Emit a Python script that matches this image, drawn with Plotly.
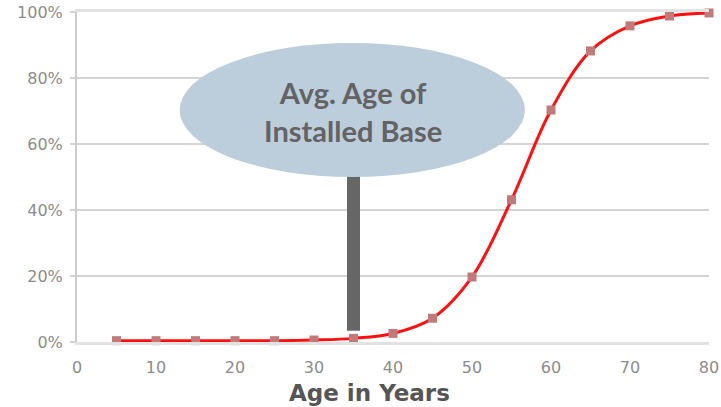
import plotly.graph_objects as go

# Cumulative share of units retired by age
age_years = [5, 10, 15, 20, 25, 30, 35, 40, 45, 50, 55, 60, 65, 70, 75, 80]
share_retired = [0.004, 0.004, 0.004, 0.004, 0.004, 0.006, 0.011, 0.026, 0.072, 0.197,
                 0.431, 0.703, 0.882, 0.958, 0.988, 0.997]

x_ticks = [0, 10, 20, 30, 40, 50, 60, 70, 80]
y_ticks = [0, 0.2, 0.4, 0.6, 0.8, 1.0]
y_tick_labels = ["0%", "20%", "40%", "60%", "80%", "100%"]

avg_age = 35
callout_text = "Avg. Age of<br>Installed Base"
axis_title = "Age in Years"

tick_font = dict(family="DejaVu Sans", size=16, color="#8c8c8c")

fig = go.Figure()

fig.add_trace(go.Scatter(
    x=age_years, y=share_retired,
    mode="lines+markers",
    line=dict(color="#ff1010", width=3, shape="spline", smoothing=1.0),
    marker=dict(symbol="square", size=9, color="#c07a7a"),
    cliponaxis=False,
    showlegend=False,
))

# marker post at the average age, topped by the callout ellipse
fig.add_shape(type="line", xref="x", yref="y",
              x0=avg_age, x1=avg_age, y0=0.034, y1=0.55,
              line=dict(color="#666666", width=13), layer="above")
fig.add_shape(type="circle", xref="x", yref="y",
              x0=13.0, x1=56.7, y0=0.50, y1=0.906,
              fillcolor="#bccddc", line=dict(width=0), layer="above")
fig.add_annotation(x=34.9, y=0.70, xref="x", yref="y", text=callout_text,
                   showarrow=False, align="center",
                   font=dict(family="Lato", size=29, color="#636363", weight="bold"))

fig.add_annotation(x=0.463, y=-0.156, xref="paper", yref="paper",
                   xanchor="center", yanchor="middle",
                   text=axis_title, showarrow=False,
                   font=dict(family="DejaVu Sans", size=23, color="#555555", weight="bold"))

fig.update_xaxes(range=[0, 80], tickvals=x_ticks, showgrid=False, zeroline=False,
                 showline=True, mirror=True, linecolor="#e2e2e2", linewidth=3,
                 ticks="", ticklabelstandoff=9, automargin=False,
                 tickfont=tick_font)
fig.update_yaxes(range=[0, 1], tickvals=y_ticks, ticktext=y_tick_labels,
                 showgrid=True, gridcolor="#d4d4d4", gridwidth=1.5, zeroline=False,
                 showline=True, linecolor="#cccccc", linewidth=2,
                 ticks="outside", ticklen=5, tickcolor="#d4d4d4", tickwidth=1.5,
                 ticklabelstandoff=4, automargin=False,
                 tickfont=tick_font)

fig.update_layout(width=721, height=407,
                  margin=dict(l=77, r=12, t=12, b=65, autoexpand=False),
                  paper_bgcolor="white", plot_bgcolor="white")

fig.write_html("out.html")
